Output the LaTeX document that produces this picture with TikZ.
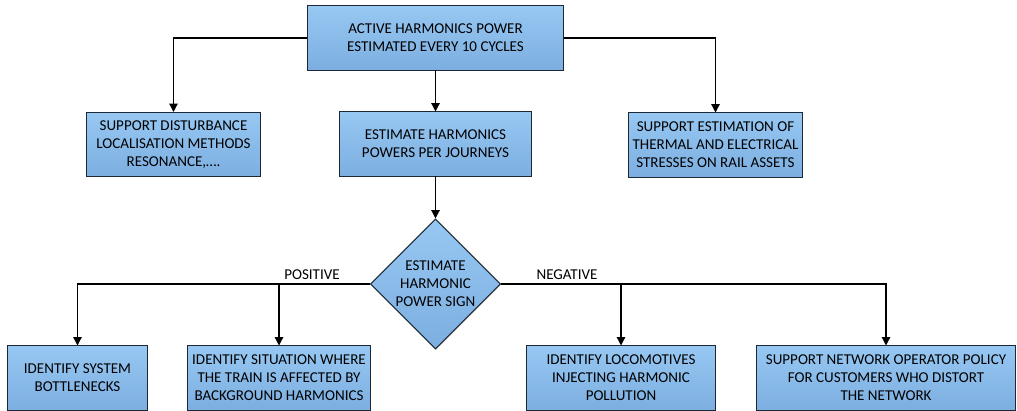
\documentclass[tikz,border=0pt]{standalone}
\usepackage{fontspec}
\setmainfont{Carlito}
\usetikzlibrary{arrows.meta,shapes.geometric,shadows}

\definecolor{boxtop}{RGB}{151,200,243}
\definecolor{boxbot}{RGB}{124,174,224}
\definecolor{boxline}{RGB}{30,40,52}

\begin{document}
\begin{tikzpicture}[x=0.025cm, y=-0.025cm,
		blk/.style={rectangle, top color=boxtop, bottom color=boxbot, draw=boxline, line width=0.7pt,
			align=center, inner sep=0pt, minimum height=1.6cm,
			font=\fontsize{10.7}{12.9}\selectfont,
			drop shadow={opacity=0.25, shadow xshift=0.6pt, shadow yshift=-0.6pt}},
		dec/.style={blk, diamond, aspect=1, minimum size=3.25cm},
		arr/.style={-{Triangle[length=2.1mm, width=2.1mm]}, line width=0.9pt},
		tag/.style={font=\fontsize{10.7}{12.9}\selectfont, inner sep=0pt}]
		
		\useasboundingbox (0,0) rectangle (1017,411);
		
		% Top row
		\node[blk, minimum width=6.375cm] (power) at (435.5, 38) {ACTIVE HARMONICS POWER\\ESTIMATED EVERY 10 CYCLES};
		\node[blk, minimum width=4.325cm] (locate) at (173.5, 144.5) {SUPPORT DISTURBANCE\\LOCALISATION METHODS\\RESONANCE,\dots.};
		\node[blk, minimum width=4.8cm] (journey) at (435.5, 144) {ESTIMATE HARMONICS\\POWERS PER JOURNEYS};
		\node[blk, minimum width=4.325cm] (stress) at (715.5, 145) {SUPPORT ESTIMATION OF\\THERMAL AND ELECTRICAL\\STRESSES ON RAIL ASSETS};
		
		% Decision
		\node[dec] (sign) at (435.5, 284) {ESTIMATE\\HARMONIC\\POWER SIGN};
		\node[tag] (pos) at (312, 275) {POSITIVE};
		\node[tag] (neg) at (567, 275) {NEGATIVE};
		
		% Bottom row
		\node[blk, minimum width=3.475cm] (bottle) at (77.5, 378) {IDENTIFY SYSTEM\\BOTTLENECKS};
		\node[blk, minimum width=4.55cm] (backgr) at (279, 378) {IDENTIFY SITUATION WHERE\\THE TRAIN IS AFFECTED BY\\BACKGROUND HARMONICS};
		\node[blk, minimum width=4.7cm] (loco) at (621, 378) {IDENTIFY LOCOMOTIVES\\INJECTING HARMONIC\\POLLUTION};
		\node[blk, minimum width=6.45cm] (policy) at (886, 378) {SUPPORT NETWORK OPERATOR POLICY\\FOR CUSTOMERS WHO DISTORT\\THE NETWORK};
		
		% Connect
		\draw[arr] (power.west) -| (locate.north);
		\draw[arr] (power.east) -| (stress.north);
		\draw[arr] (power.south) -- (journey.north);
		\draw[arr] (journey.south) -- (sign.north);
		\draw[arr] (sign.west) -| (bottle.north);
		\draw[arr] (sign.west) -| (backgr.north);
		\draw[arr] (sign.east) -| (loco.north);
		\draw[arr] (sign.east) -| (policy.north);
		
	\end{tikzpicture}
\end{document}
